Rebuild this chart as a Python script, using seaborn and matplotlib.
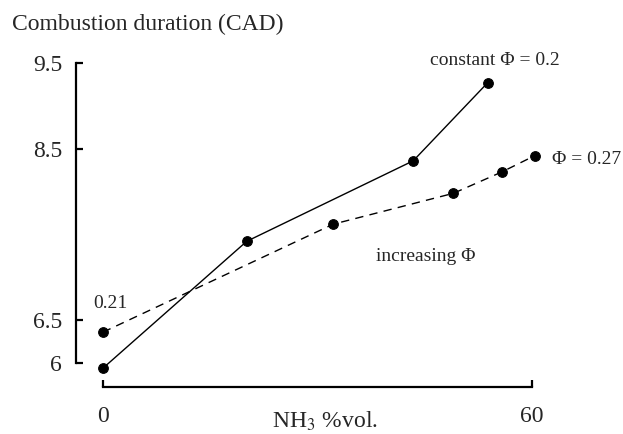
import seaborn as sns
import matplotlib.pyplot as plt
import pandas as pd

# values
nh3_const = [0, 20.1, 43.4, 53.8]
dur_const = [5.94, 7.42, 8.36, 9.27]
nh3_incr = [0, 32.2, 49.0, 55.8, 60.4]
dur_incr = [6.36, 7.62, 7.98, 8.23, 8.42]
xticks = [0, 60]
yticks = [6, 6.5, 8.5, 9.5]

sns.set_style("ticks")
plt.rcParams['font.family'] = ['Liberation Serif', 'DejaVu Serif']
plt.rcParams['mathtext.fontset'] = 'stix'

df_c = pd.DataFrame({'x': nh3_const, 'y': dur_const})
df_i = pd.DataFrame({'x': nh3_incr, 'y': dur_incr})

fig = plt.figure(figsize=(6.23, 4.34), dpi=100)
ax = fig.add_axes([0.1653, 0.1438, 0.700, 0.7207])

sns.lineplot(data=df_c, x='x', y='y', ax=ax, color='black', linewidth=1.0,
             marker='o', markersize=7, markeredgecolor='black', clip_on=False)
sns.lineplot(data=df_i, x='x', y='y', ax=ax, color='black', linewidth=1.0,
             linestyle=(0, (6, 4.5)), marker='o', markersize=7,
             markeredgecolor='black', clip_on=False)

ax.set_xlim(0, 61)
ax.set_ylim(5.9, 9.55)
ax.set_xticks(xticks, [str(t) for t in xticks])
ax.set_yticks(yticks, ['6', '6.5', '8.5', '9.5'])
ax.set_xlabel('')
ax.set_ylabel('')
ax.tick_params(axis='both', direction='in', length=5, width=1.6, labelsize=17, color='black')
ax.tick_params(axis='y', pad=10)
ax.tick_params(axis='x', pad=14)
for s in ax.spines.values():
    s.set_linewidth(1.6)
    s.set_color('black')
sns.despine(ax=ax, offset={'left': 19.4, 'bottom': 11.1}, trim=True)

ax.text(54.8, 9.535, 'constant Φ = 0.2', fontsize=14, ha='center', va='center')
ax.text(62.8, 8.37, 'Φ = 0.27', fontsize=14, ha='left', va='center')
ax.text(-1.4, 6.70, '0.21', fontsize=14, ha='left', va='center')
ax.text(38.2, 7.24, 'increasing Φ', fontsize=14, ha='left', va='center')

fig.text(12 / 623, 1 - 24 / 434, 'Combustion duration (CAD)', fontsize=17, ha='left', va='center')
fig.text(325 / 623, 1 - 421 / 434, 'NH$_3$ %vol.', fontsize=17, ha='center', va='center')

plt.savefig('out.png', dpi=100)
plt.close()
